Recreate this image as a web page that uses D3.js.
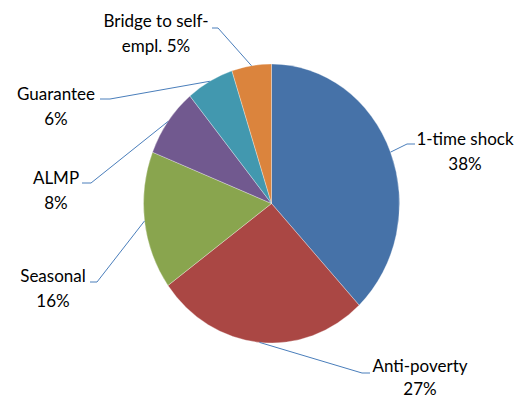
<!DOCTYPE html>
<html>
<head>
<meta charset="utf-8">
<script src="https://cdn.jsdelivr.net/npm/d3@7"></script>
<style>
  html, body { margin: 0; padding: 0; background: #fff; }
  svg { display: block; }
  text { font-family: Lato, "Liberation Sans", sans-serif; font-size: 17px; fill: #000; }
</style>
</head>
<body>
<svg id="chart" width="520" height="400"></svg>
<script>
// ---- data ----
const categories = ["1-time shock", "Anti-poverty", "Seasonal", "ALMP", "Guarantee", "Bridge to self-empl."];
const values = [38, 27, 16, 8, 6, 5];
const labelLine1 = ["1-time shock", "Anti-poverty", "Seasonal", "ALMP", "Guarantee", "Bridge to self-"];
const labelLine2 = ["38%", "27%", "16%", "8%", "6%", "empl. 5%"];
const colors = ["#4672A8", "#AA4744", "#89A54E", "#71598F", "#4298AF", "#DB843D"];

// ---- layout (positions kept apart from data) ----
const cx = 271.5, cy = 203.5, rx = 128, ry = 139.5;
// label layout: text centre x, first baseline y, line gap, elbow point, leader end point
const labelLayout = [
  { tx: 465, ty: 145, gap: 25, elbow: [407, 144], end: [415, 144] },
  { tx: 420, ty: 372, gap: 23, elbow: [362, 373], end: [370, 373] },
  { tx: 53,  ty: 282, gap: 25, elbow: [97, 282],  end: [90, 282] },
  { tx: 56,  ty: 184, gap: 25, elbow: [91, 183],  end: [82, 183] },
  { tx: 56,  ty: 100, gap: 25, elbow: [110, 99],  end: [100, 99] },
  { tx: 156, ty: 27,  gap: 25, elbow: [218, 28],  end: [212, 28] }
];

const svg = d3.select("#chart");

const pie = d3.pie().sort(null).value(d => d)(values);
const arc = d3.arc().innerRadius(0).outerRadius(rx);

const color = d3.scaleOrdinal().domain(categories).range(colors);

const g = svg.append("g")
  .attr("transform", `translate(${cx},${cy}) scale(1,${ry / rx})`);

g.selectAll("path")
  .data(pie)
  .join("path")
  .attr("d", arc)
  .attr("fill", (d, i) => color(categories[i]))
  .attr("stroke", "#ffffff")
  .attr("stroke-width", 0.3);

// leader lines
const edgePoint = d => {
  const a = (d.startAngle + d.endAngle) / 2;
  return [cx + rx * Math.sin(a), cy - ry * Math.cos(a)];
};

svg.append("g").selectAll("polyline")
  .data(pie)
  .join("polyline")
  .attr("points", (d, i) => {
    const p = edgePoint(d), L = labelLayout[i];
    return [p, L.elbow, L.end].map(q => q.join(",")).join(" ");
  })
  .attr("fill", "none")
  .attr("stroke", "#4A7EBB")
  .attr("stroke-width", 1);

// labels
const lg = svg.append("g");
pie.forEach((d, i) => {
  const L = labelLayout[i];
  const t = lg.append("text").attr("text-anchor", "middle");
  t.append("tspan").attr("x", L.tx).attr("y", L.ty).text(labelLine1[i]);
  t.append("tspan").attr("x", L.tx).attr("y", L.ty + L.gap).text(labelLine2[i]);
});
</script>
</body>
</html>
